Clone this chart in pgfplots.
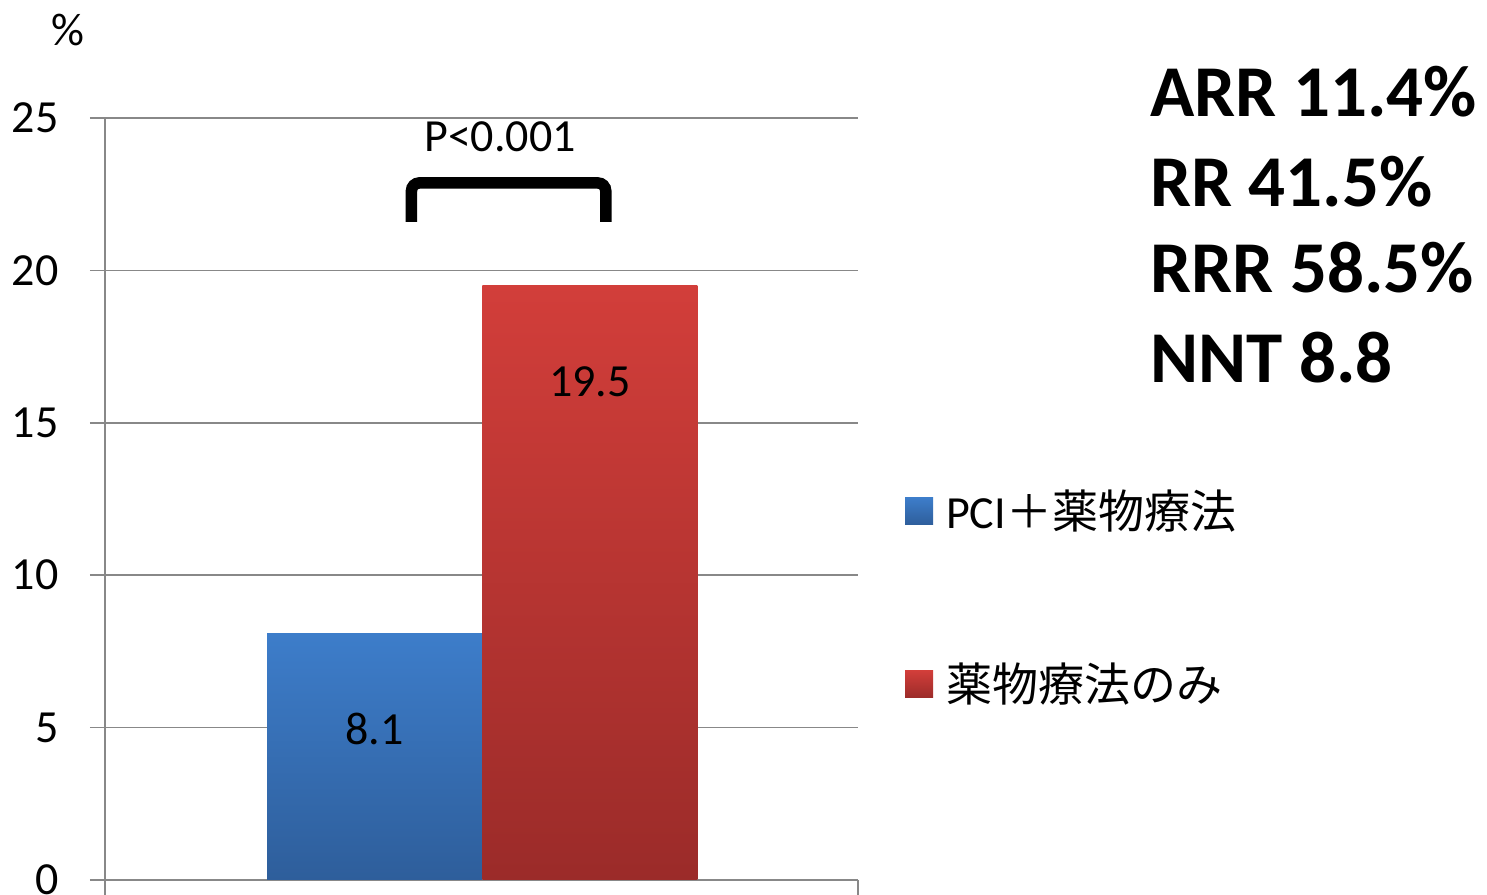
\documentclass[border=0pt]{standalone}
\usepackage{fontspec}
\setmainfont{Carlito}
\newfontfamily\jp{Noto Sans CJK JP}
\usepackage{pgfplots}
\pgfplotsset{compat=1.18}

\definecolor{gridgray}{HTML}{888888}
\definecolor{bluetop}{HTML}{3D7DCA}
\definecolor{bluebot}{HTML}{2E5E9B}
\definecolor{redtop}{HTML}{D23E3A}
\definecolor{redbot}{HTML}{9B2B29}

\newcommand{\mainsize}{\fontsize{46bp}{52bp}\selectfont}
\newcommand{\bigsize}{\bfseries\fontsize{73bp}{80bp}\selectfont}

\begin{document}
\begin{tikzpicture}
\path[use as bounding box] (0,0) rectangle (1487bp,895bp);
\begin{axis}[
  at={(105bp,15bp)}, anchor=south west,
  scale only axis, width=753bp, height=762bp,
  xmin=0, xmax=1, ymin=0, ymax=25,
  axis x line*=bottom, axis y line*=left,
  axis line style={gridgray, line width=1.6bp},
  tick align=outside, major tick length=15bp,
  tick style={gridgray, line width=1.6bp},
  xtick={0,1}, xticklabels={},
  ytick={0,5,...,25},
  ymajorgrids, grid style={gridgray, line width=1.6bp},
  /pgf/number format/assume math mode=true,
  ticklabel style={font=\mainsize, text=black},
  yticklabel style={xshift=-28bp},
  every axis y label/.style={at={(rel axis cs:-0.049,1.1155)}, anchor=center, font=\mainsize},
  ylabel={\%},
  legend style={at={(rel axis cs:1.0624,0.5078)}, anchor=north west,
    draw=none, fill=none, inner sep=0pt, row sep=128bp,
    nodes={inner sep=0pt, text height=35bp, text depth=10bp, font=\mainsize},
    /tikz/every odd column/.append style={column sep=13bp}},
  legend cell align=left,
  clip=false,
]
\addplot[ybar, bar width=215bp, bar shift=0pt, draw=none,
  top color=bluetop, bottom color=bluebot,
  nodes near coords,
  nodes near coords style={anchor=center, yshift=-96bp, font=\mainsize, text=black},
  legend image code/.code={\shade[top color=bluetop, bottom color=bluebot] (0bp,-9bp) rectangle (28bp,18bp);}]
  coordinates {(0.358,8.1)};
\addlegendentry{PCI{\jp ＋薬物療法}}
\addplot[ybar, bar width=215bp, bar shift=0pt, draw=none,
  top color=redtop, bottom color=redbot,
  nodes near coords,
  nodes near coords style={anchor=center, yshift=-96bp, font=\mainsize, text=black},
  legend image code/.code={\shade[top color=redtop, bottom color=redbot] (0bp,-9bp) rectangle (28bp,18bp);}]
  coordinates {(0.644,19.5)};
\addlegendentry{{\jp 薬物療法のみ}}
% significance bracket
\draw[line width=11.5bp, rounded corners=8bp]
  (axis cs:0.407,21.59) |- (axis cs:0.665,22.87) -- (axis cs:0.665,21.59);
\node[font=\mainsize] at (axis cs:0.5246,24.38) {P<0.001};
\end{axis}
\node[anchor=base west, inner sep=0pt, font=\bigsize] at (1150bp,778bp) {ARR 11.4\%};
\node[anchor=base west, inner sep=0pt, font=\bigsize] at (1150bp,688bp) {RR 41.5\%};
\node[anchor=base west, inner sep=0pt, font=\bigsize] at (1150bp,602bp) {RRR 58.5\%};
\node[anchor=base west, inner sep=0pt, font=\bigsize] at (1150bp,512bp) {NNT 8.8};
\end{tikzpicture}
\end{document}
